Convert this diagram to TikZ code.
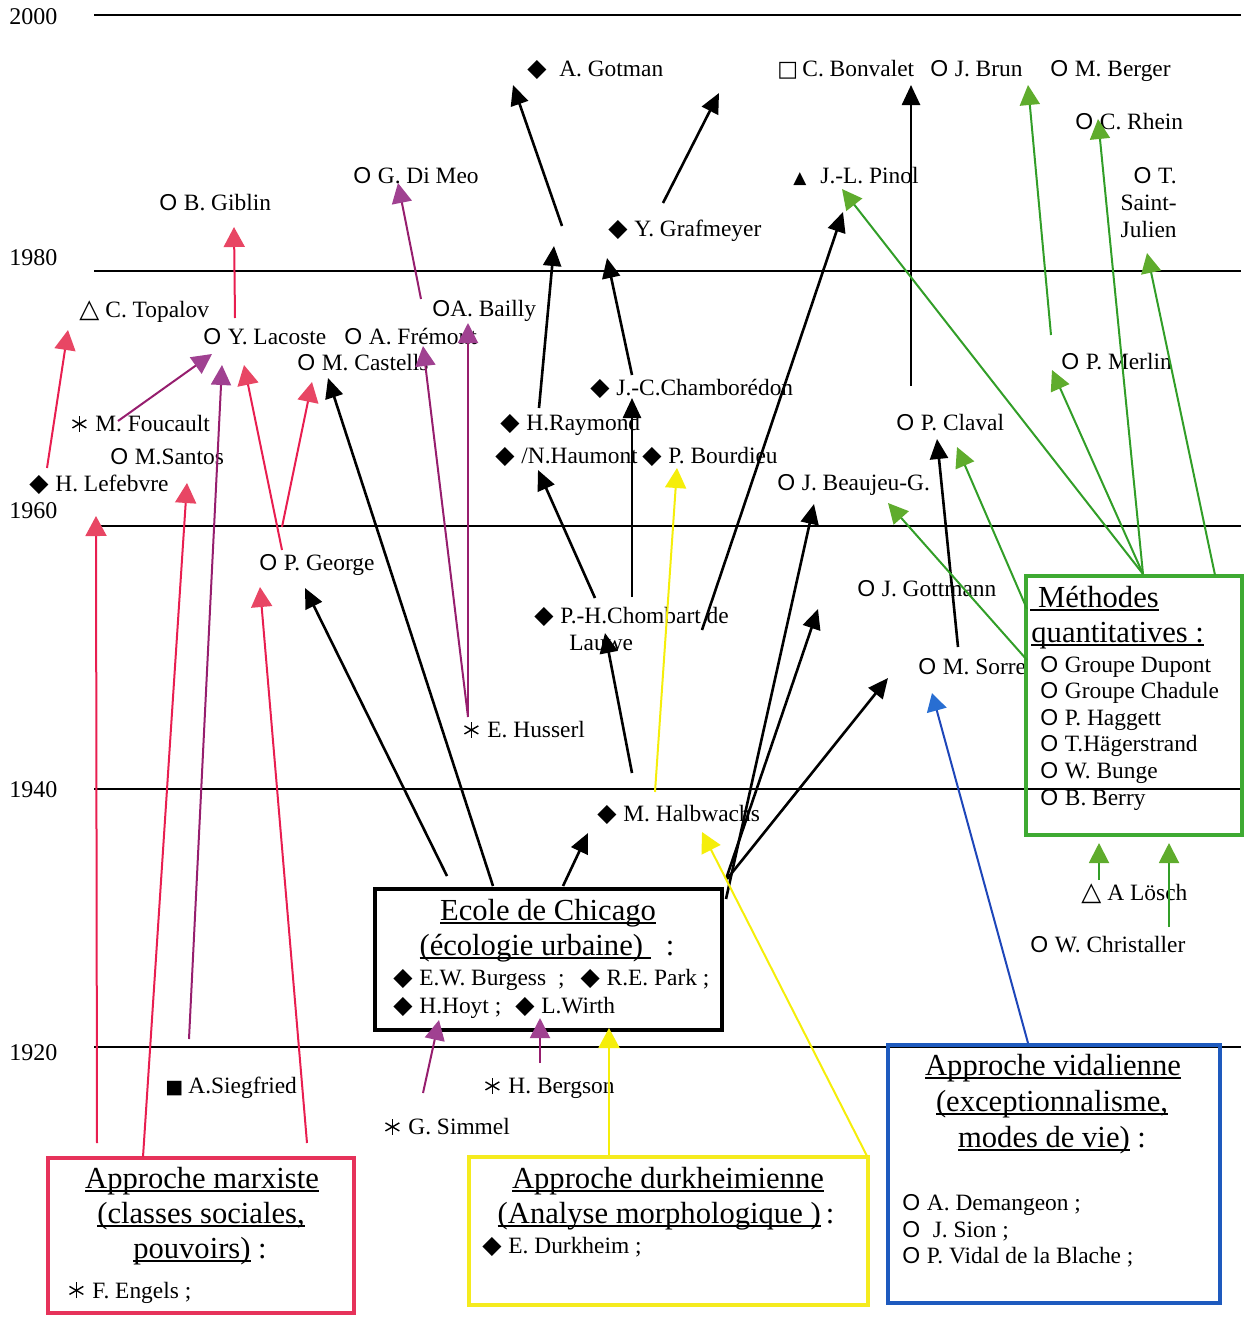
\documentclass[tikz,border=0pt]{standalone}
\usepackage{fontspec}
\usepackage{graphicx}
\setmainfont{Liberation Serif}
\newfontfamily\symf{DejaVu Sans}
\newfontfamily\sansf{Liberation Sans}
\usetikzlibrary{arrows.meta}

\definecolor{marx}{RGB}{232,30,80}
\definecolor{marxhead}{RGB}{232,70,100}
\definecolor{marxbox}{RGB}{230,50,90}
\definecolor{phen}{RGB}{150,30,110}
\definecolor{phenhead}{RGB}{160,65,145}
\definecolor{durk}{RGB}{245,238,10}
\definecolor{durkbox}{RGB}{245,235,30}
\definecolor{quant}{RGB}{50,158,40}
\definecolor{quanthead}{RGB}{95,172,45}
\definecolor{quantbox}{RGB}{62,170,50}
\definecolor{vid}{RGB}{30,70,185}
\definecolor{vidhead}{RGB}{40,110,210}
\definecolor{vidbox}{RGB}{30,90,190}

% markers in front of the names
\newsavebox\ulbox
\newcommand\undl[1]{\sbox\ulbox{#1}\rlap{\rule[-1.8pt]{\wd\ulbox}{0.6pt}}\usebox\ulbox}
\newcommand\ringO{{\sansf\fontsize{11.5}{10}\selectfont O}}
\newcommand\cO{\makebox[12.25pt][l]{\ringO}}
\newcommand\cD{\makebox[13pt][l]{\symf\fontsize{12.5}{10}\selectfont ◆}}
\newcommand\cT{\makebox[13pt][l]{\symf\fontsize{13}{10}\selectfont △}}
\newcommand\cTf{\makebox[13.5pt][l]{\symf\fontsize{8.5}{10}\selectfont ▲}}
\newcommand\cQ{\makebox[12.5pt][l]{\symf\fontsize{11}{10}\selectfont □}}
\newcommand\cQf{\makebox[11.5pt][l]{\symf\fontsize{9.5}{10}\selectfont ■}}
\newcommand\spoke[1]{\makebox[0pt]{\rotatebox[origin=c]{#1}{\rule[-0.35pt]{8pt}{0.7pt}}}}
\newcommand\cS{\makebox[12pt][l]{\hspace{4pt}\raisebox{3.8pt}{\spoke{90}\spoke{30}\spoke{-30}}}}

\begin{document}
\begin{tikzpicture}[x=0.5pt, y=-0.5pt,
    every node/.style={inner sep=0pt, font=\fontsize{11.7}{13.5}\selectfont},
    who/.style={anchor=base west},
    title/.style={anchor=base, font=\fontsize{15.3}{18}\selectfont},
    titlew/.style={anchor=base west, font=\fontsize{15.3}{18}\selectfont},
    year/.style={anchor=base west, font=\fontsize{12}{14}\selectfont},
    era/.style={line width=0.9pt},
    frame/.style={draw, line width=2.4pt},
    blk/.style={line width=1.3pt, -{Triangle[length=10pt,width=9pt]}},
    marxline/.style={draw=marx, line width=1pt, -{Triangle[length=10pt,width=10.5pt,color=marxhead]}},
    phenline/.style={draw=phen, line width=1pt, -{Triangle[length=10pt,width=10pt,color=phenhead]}},
    durkline/.style={draw=durk, line width=1pt, -{Triangle[length=10pt,width=10.5pt,color=durk]}},
    quantline/.style={draw=quant, line width=1pt, -{Triangle[length=10pt,width=10pt,color=quanthead]}},
    vidline/.style={draw=vid, line width=1pt, -{Triangle[length=9pt,width=10pt,color=vidhead]}}]

  \useasboundingbox (0,0) rectangle (1247,1317);

  % time scale
  \foreach \yr/\yl/\yy in {2000/25/15, 1980/265/271, 1960/518/526, 1940/797/789, 1920/1060/1047} {
    \node[year] (y\yr) at (9,\yl) {\yr};
    \draw[era] (94,\yy) -- (1241,\yy);
  }

  % authors
  \node[who] (gotman) at (527,76) {\cD\ A. Gotman};
  \node[who] (bonvalet) at (777,76) {\cQ C. Bonvalet};
  \node[who] (brun) at (930,76) {\cO J. Brun};
  \node[who] (berger) at (1050,76) {\cO M. Berger};
  \node[who] (rhein) at (1075,129) {\cO C. Rhein};
  \node[anchor=north east, align=right] (julien) at (1177,167.5) {\cO T.\\Saint-\\Julien};
  \node[who] (pinol) at (793,183.5) {\cTf J.-L. Pinol};
  \node[who] (dimeo) at (353,183.5) {\cO G. Di Meo};
  \node[who] (giblin) at (159,210.5) {\cO B. Giblin};
  \node[who] (grafmeyer) at (608,236.5) {\cD Y. Grafmeyer};
  \node[who] (topalov) at (79,317.5) {\cT C. Topalov};
  \node[who] (lacoste) at (203,344.5) {\cO Y. Lacoste};
  \node[who] (fremont) at (344,344.5) {\cO A. Frémont};
  \node[who] (bailly) at (432,316.5) {\ringO A. Bailly};
  \node[who] (castells) at (297,370.5) {\cO M. Castells};
  \node[who] (chamboredon) at (590,395.5) {\cD J.-C.Chamborédon};
  \node[who] (foucault) at (71,431.5) {\cS M. Foucault};
  \node[who] (raymond) at (500,430.5) {\cD H.Raymond};
  \node[who] (claval) at (896,430.5) {\cO P. Claval};
  \node[who] (merlin) at (1061,369.5) {\cO P. Merlin};
  \node[who] (santos) at (110,464.5) {\cO M.Santos};
  \node[who] (haumont) at (495,463.5) {\cD /N.Haumont};
  \node[who] (bourdieu) at (642,463.5) {\cD P. Bourdieu};
  \node[who] (beaujeu) at (777,490.5) {\cO J. Beaujeu-G.};
  \node[who] (lefebvre) at (29,491.5) {\cD H. Lefebvre};
  \node[who] (george) at (259,570.5) {\cO P. George};
  \node[who] (gottmann) at (857,596.5) {\cO J. Gottmann};
  \node[anchor=north west, align=left] (chombart) at (534,606.5) {\cD P.-H.Chombart de\\\hspace*{17.5pt}Lauwe};
  \node[who] (sorre) at (918,674.5) {\cO M. Sorre};
  \node[who] (husserl) at (463,737.5) {\cS E. Husserl};
  \node[who] (halbwachs) at (597,821.5) {\cD M. Halbwachs};
  \node[who] (losch) at (1081,900.5) {\cT A Lösch};
  \node[who] (christaller) at (1030,952.5) {\cO W. Christaller};
  \node[who] (siegfried) at (165,1093.5) {\cQf A.Siegfried};
  \node[who] (bergson) at (484,1093.5) {\cS H. Bergson};
  \node[who] (simmel) at (384,1134.5) {\cS G. Simmel};

  % schools
  \node[frame, draw=black, minimum width=173.5pt, minimum height=70.5pt] (chicago) at (548.5,959.5) {};
  \node[title] (chicagoT) at (548,920) {\undl{Ecole de Chicago}};
  \node[title] (chicagoS) at (547,955) {\undl{(écologie urbaine)\ }\ \ :};
  \node[who] (chicagoA) at (393,985) {\cD E.W. Burgess\hspace{6pt};\hspace{8pt}\cD R.E. Park ;};
  \node[who] (chicagoB) at (393,1013) {\cD H.Hoyt ;\hspace{7pt}\cD L.Wirth};

  \node[frame, draw=quantbox, minimum width=108pt, minimum height=129.5pt] (quantbox) at (1134,705.5) {};
  \node[titlew] (quantT) at (1030,607) {\undl{\ Méthodes}};
  \node[titlew] (quantS) at (1031,642) {\undl{quantitatives :}};
  \foreach \nm [count=\i] in {Groupe Dupont, Groupe Chadule, P. Haggett, T.Hägerstrand, W. Bunge, B. Berry}
    \node[who] (q\i) at (1040,645.4+26.6*\i) {\cO \nm};

  \node[frame, draw=vidbox, minimum width=166pt, minimum height=129pt] (vidbox) at (1054,1174) {};
  \node[title] (vidT) at (1053,1075) {\undl{Approche vidalienne}};
  \node[title] (vidS) at (1052,1111) {\undl{(exceptionnalisme,}};
  \node[title] (vidU) at (1052,1147) {\undl{modes de vie)}\ :};
  \node[who] (demangeon) at (902,1210) {\cO A. Demangeon ;};
  \node[who] (sion) at (902,1237) {\cO\ J. Sion ;};
  \node[who] (vidal) at (902,1263) {\cO P. Vidal de la Blache ;};

  \node[frame, draw=marxbox, minimum width=153pt, minimum height=77.5pt] (marxbox) at (201,1235.5) {};
  \node[title] (marxT) at (202,1188) {\undl{Approche marxiste}};
  \node[title] (marxS) at (201,1223) {\undl{(classes sociales,}};
  \node[title] (marxU) at (200,1258) {\undl{pouvoirs)}\ :};
  \node[who] (engels) at (68,1298) {\cS F. Engels ;};

  \node[frame, draw=durkbox, minimum width=199.5pt, minimum height=74pt] (durkbox) at (668.5,1231) {};
  \node[title] (durkT) at (668,1188) {\undl{Approche durkheimienne}};
  \node[title] (durkS) at (666,1223) {\undl{(Analyse morphologique )}\,:};
  \node[who] (durkheim) at (482,1253) {\cD E. Durkheim ;};

  % arrow ends
  \coordinate (gotA) at (562,226);   \coordinate (gotB) at (513,85);
  \coordinate (grfA) at (663,203);   \coordinate (grfB) at (719,93);
  \coordinate (rayA) at (539,408);   \coordinate (rayB) at (554,246);
  \coordinate (chaA) at (632,375);   \coordinate (chaB) at (607,258);
  \coordinate (chbA) at (632,597);   \coordinate (chbB) at (632,398);
  \coordinate (hauA) at (595,598);   \coordinate (hauB) at (538,470);
  \coordinate (pinA) at (702,630);   \coordinate (pinB) at (843,212);
  \coordinate (halA) at (632,773);   \coordinate (halB) at (605,633);
  \coordinate (chiA) at (563,886);   \coordinate (chiB) at (588,833);
  \coordinate (casA) at (493,886);   \coordinate (casB) at (328,378);
  \coordinate (geoA) at (447,876);   \coordinate (geoB) at (305,588);
  \coordinate (beaA) at (726,899);   \coordinate (beaB) at (814,504);
  \coordinate (gtmA) at (726,879);   \coordinate (gtmB) at (818,609);
  \coordinate (sorA) at (727,879);   \coordinate (sorB) at (888,678);
  \coordinate (clvA) at (911,386);   \coordinate (clvB) at (911,85);
  \coordinate (sorC) at (958,647);   \coordinate (clvC) at (937,439);

  \coordinate (lacA) at (235,318);   \coordinate (gibB) at (234,227);
  \coordinate (lefA) at (47,468);    \coordinate (topB) at (68,330);
  \coordinate (geoC) at (282,550);   \coordinate (lacB) at (244,365);
  \coordinate (geoD) at (282,527);   \coordinate (casC) at (312,382);
  \coordinate (mxA) at (97,1143);    \coordinate (lefB) at (96,516);
  \coordinate (mxB) at (143,1157);   \coordinate (sanB) at (187,483);
  \coordinate (mxC) at (307,1143);   \coordinate (geoE) at (260,587);

  \coordinate (fouA) at (118,421);   \coordinate (lacC) at (212,354);
  \coordinate (sieA) at (189,1039);  \coordinate (lacD) at (222,365);
  \coordinate (baiA) at (421,299);   \coordinate (dimB) at (398,183);
  \coordinate (husA) at (468,717);   \coordinate (freB) at (423,346);
  \coordinate (baiB) at (468,323);
  \coordinate (simA) at (423,1093);  \coordinate (hoyB) at (439,1020);
  \coordinate (berA) at (540,1063);  \coordinate (wirB) at (540,1018);

  \coordinate (halC) at (655,792);   \coordinate (bouB) at (677,468);
  \coordinate (dkA) at (867,1156);   \coordinate (halD) at (702,832);
  \coordinate (dkB) at (609,1155);   \coordinate (chiC) at (609,1028);

  \coordinate (vdA) at (1028,1043);  \coordinate (sorD) at (932,693);

  \coordinate (qtA) at (1143,574);   \coordinate (pinC) at (842,189);
  \coordinate (merB) at (1052,370);  \coordinate (rheB) at (1098,119);
  \coordinate (qtB) at (1215,575);   \coordinate (julB) at (1147,253);
  \coordinate (qtC) at (1027,660);   \coordinate (beaC) at (888,503);
  \coordinate (qtD) at (1027,609);   \coordinate (clvD) at (957,447);
  \coordinate (bruA) at (1051,335);  \coordinate (bruB) at (1028,85);
  \coordinate (losA) at (1099,880);  \coordinate (qtE) at (1099,843);
  \coordinate (chrA) at (1169,927);  \coordinate (qtF) at (1169,843);

  % filiations
  \foreach \a/\b in {gotA/gotB, grfA/grfB, rayA/rayB, chaA/chaB, chbA/chbB, hauA/hauB,
      pinA/pinB, halA/halB, chiA/chiB, casA/casB, geoA/geoB, beaA/beaB, gtmA/gtmB,
      sorA/sorB, clvA/clvB, sorC/clvC}
    \draw[blk] (\a) -- (\b);
  \foreach \a/\b in {lacA/gibB, lefA/topB, geoC/lacB, geoD/casC, mxA/lefB, mxB/sanB, mxC/geoE}
    \draw[marxline] (\a) -- (\b);
  \foreach \a/\b in {fouA/lacC, sieA/lacD, baiA/dimB, husA/freB, husA/baiB, simA/hoyB, berA/wirB}
    \draw[phenline] (\a) -- (\b);
  \foreach \a/\b in {halC/bouB, dkA/halD, dkB/chiC}
    \draw[durkline] (\a) -- (\b);
  \draw[vidline] (vdA) -- (sorD);
  \foreach \a/\b in {qtA/pinC, qtA/merB, qtA/rheB, qtB/julB, qtC/beaC, qtD/clvD, bruA/bruB, losA/qtE, chrA/qtF}
    \draw[quantline] (\a) -- (\b);
\end{tikzpicture}
\end{document}
